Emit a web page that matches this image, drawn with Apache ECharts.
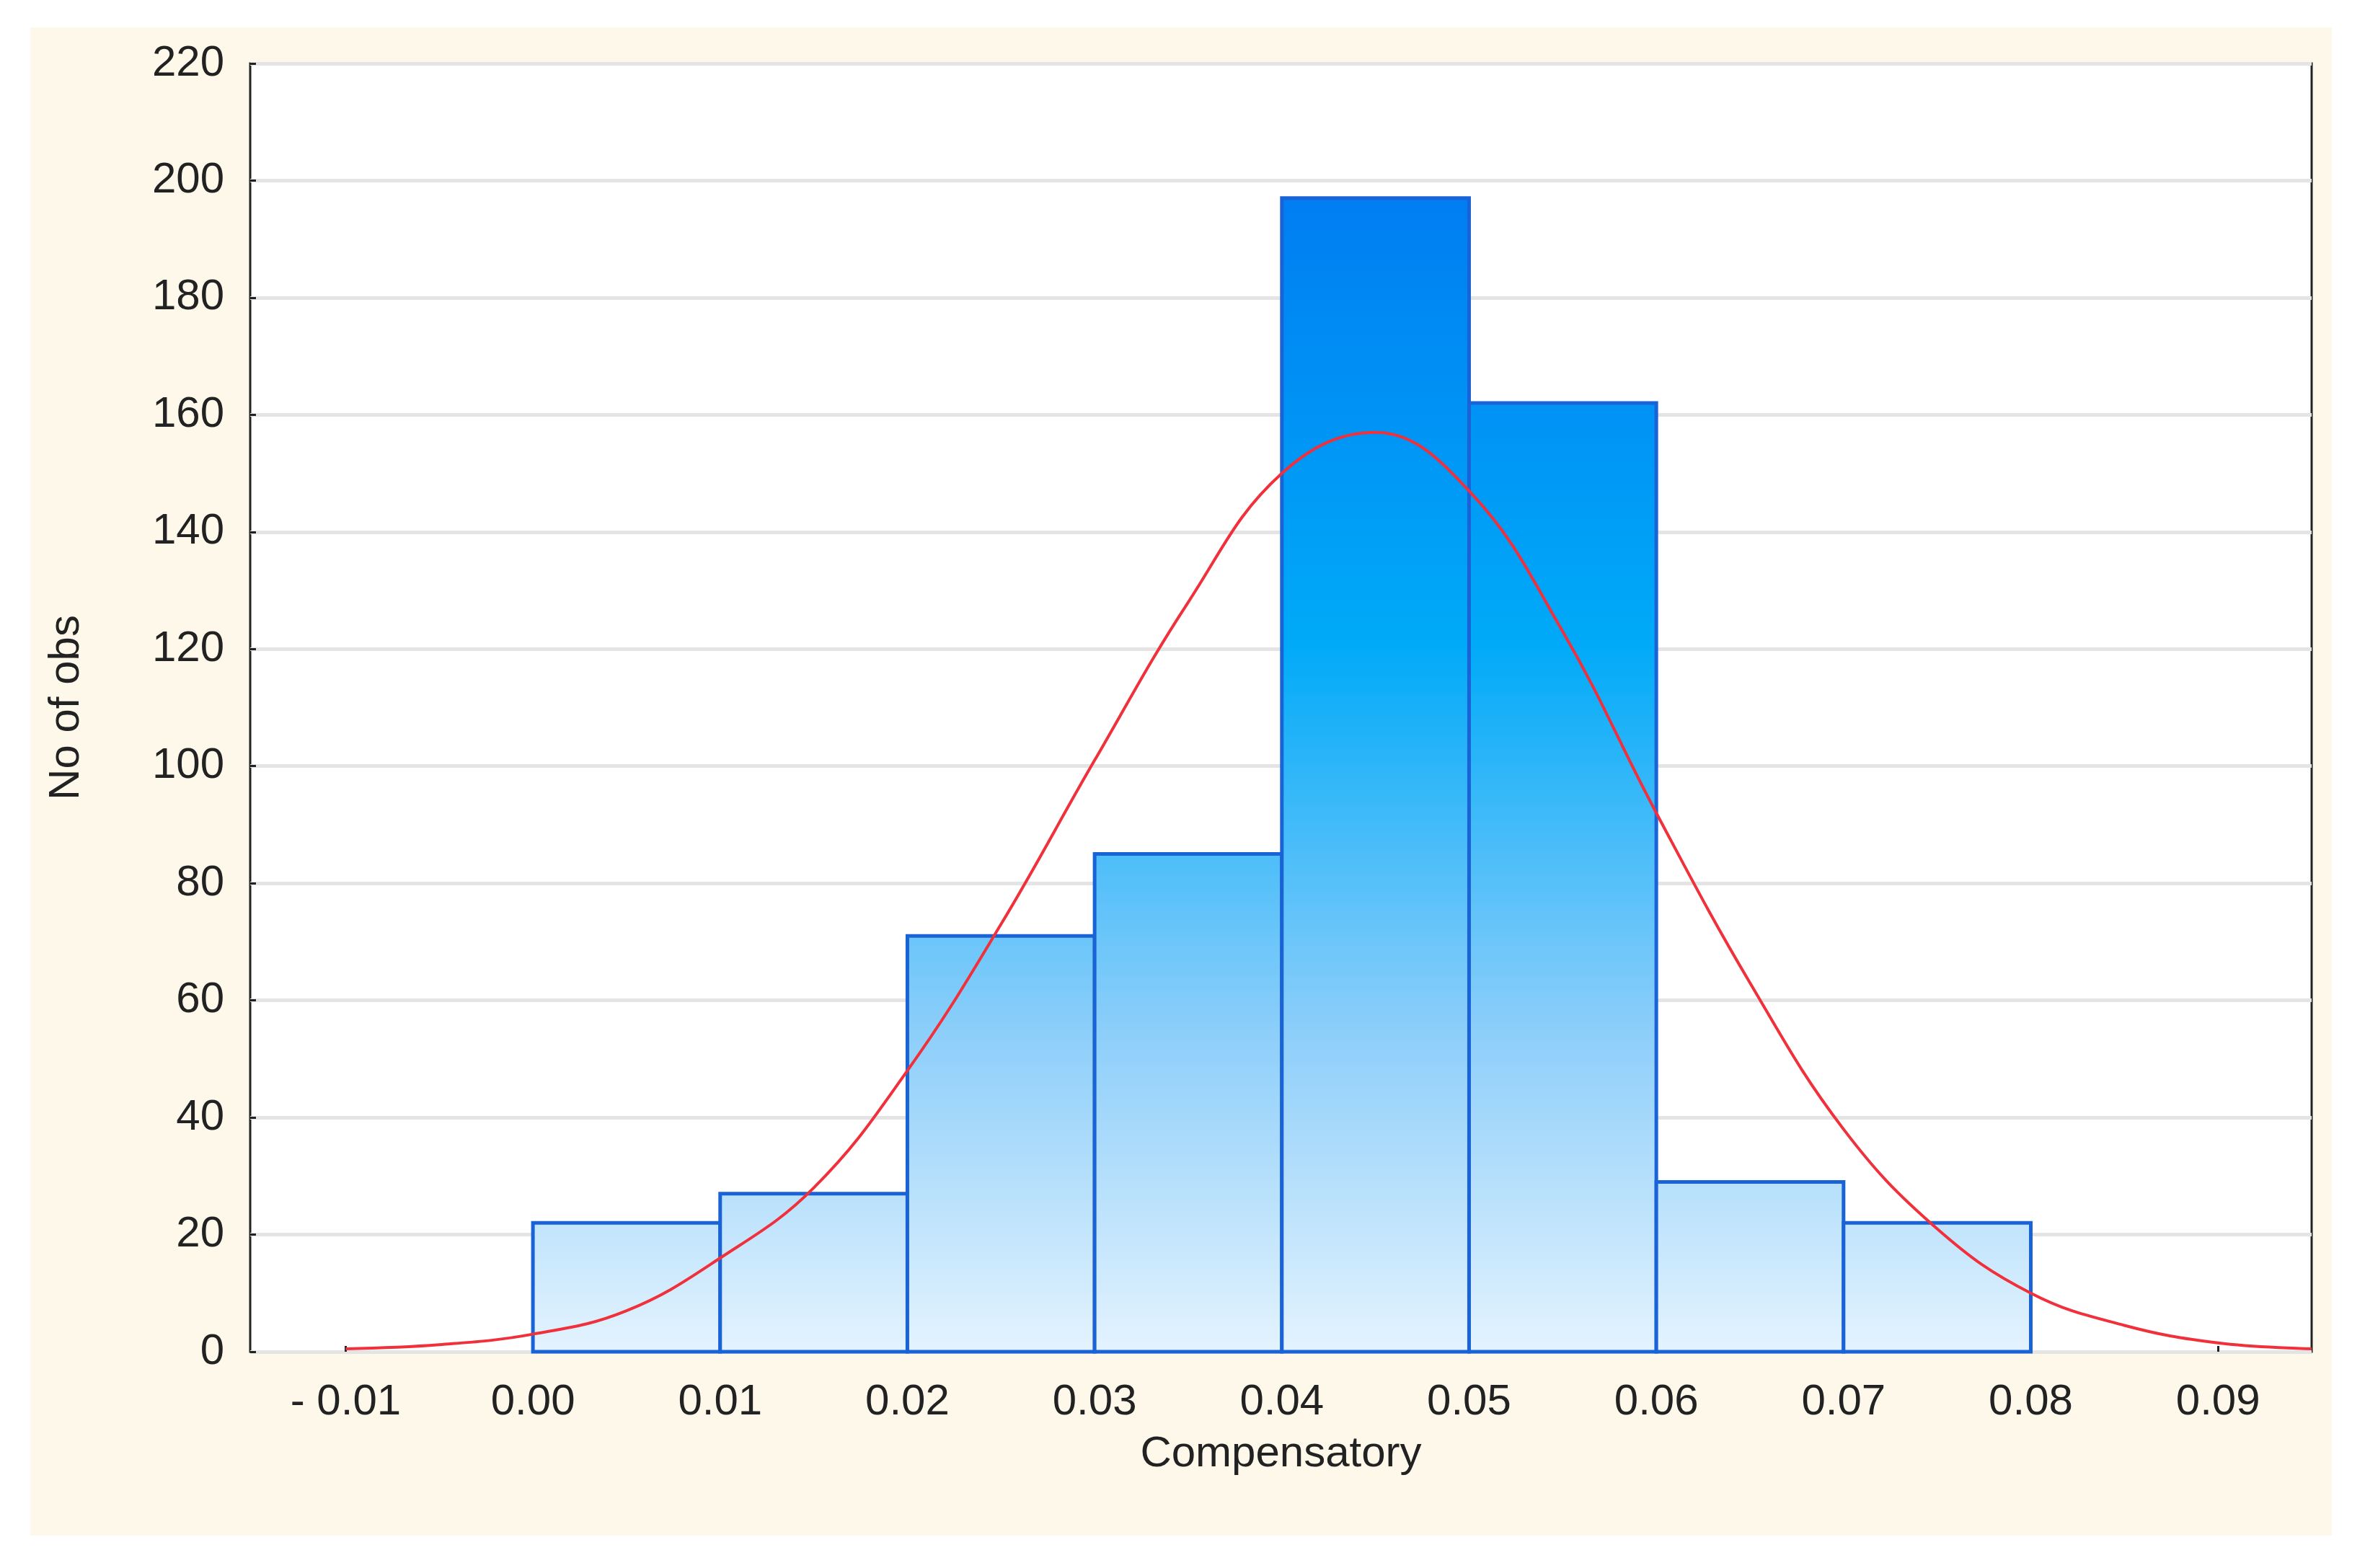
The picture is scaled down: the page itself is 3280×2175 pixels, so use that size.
<!DOCTYPE html>
<html>
<head>
<meta charset="utf-8">
<script src="https://cdn.jsdelivr.net/npm/echarts@6/dist/echarts.min.js"></script>
<style>html,body{margin:0;padding:0;background:#fff}#c{width:3280px;height:2175px}</style>
</head>
<body>
<div id="c"></div>
<script>
// histogram bins: [from, to, count]
var binStart = [0.00, 0.01, 0.02, 0.03, 0.04, 0.05, 0.06, 0.07];
var binEnd   = [0.01, 0.02, 0.03, 0.04, 0.05, 0.06, 0.07, 0.08];
var counts   = [22, 27, 71, 85, 197, 162, 29, 22];
// fitted normal curve
var curveX = [-0.01, -0.005, 0, 0.005, 0.01, 0.015, 0.02, 0.025, 0.03, 0.035, 0.04, 0.045, 0.05, 0.055, 0.06, 0.065, 0.07, 0.075, 0.08, 0.085, 0.09, 0.095];
var curveY = [0.5, 1.2, 3, 7, 16, 28, 48, 73, 101, 128, 150, 157, 147, 123, 92, 63, 38, 21, 10, 4.5, 1.5, 0.5];
var xTicks = [-0.01, 0, 0.01, 0.02, 0.03, 0.04, 0.05, 0.06, 0.07, 0.08, 0.09];

var chart = echarts.init(document.getElementById('c'));
var font = 'Liberation Sans, Arial, sans-serif';

var bars = binStart.map(function (s, i) { return [s, binEnd[i], counts[i]]; });
var curve = curveX.map(function (x, i) { return [x, curveY[i]]; });

chart.setOption({
    animation: false,
    graphic: [{
        type: 'rect', z: -10,
        shape: {x: 42, y: 38, width: 3192, height: 2092},
        style: {fill: '#fdf8ea'}
    }],
    grid: {left: 347, right: 74, top: 88, bottom: 300, show: true, backgroundColor: '#fff', borderColor: '#222', borderWidth: 3},
    xAxis: {
        type: 'value', min: -0.0151, max: 0.095,
        name: 'Compensatory', nameLocation: 'middle', nameGap: 112,
        nameTextStyle: {fontFamily: font, fontSize: 60, color: '#222'},
        axisLine: {show: false},
        splitLine: {show: false},
        axisTick: {show: true, inside: true, length: 8, customValues: xTicks, lineStyle: {color: '#222', width: 3}},
        axisLabel: {
            customValues: xTicks, margin: 40, fontFamily: font, fontSize: 60, color: '#222',
            formatter: function (v) { return v < 0 ? '- ' + Math.abs(v).toFixed(2) : v.toFixed(2); }
        }
    },
    yAxis: {
        type: 'value', min: 0, max: 220, interval: 20,
        name: 'No of obs', nameLocation: 'middle', nameGap: 225,
        nameTextStyle: {fontFamily: font, fontSize: 60, color: '#222'},
        axisLine: {show: false, onZero: false},
        axisTick: {show: true, inside: true, length: 8, lineStyle: {color: '#222', width: 3}},
        axisLabel: {margin: 36, fontFamily: font, fontSize: 60, color: '#222'},
        splitLine: {lineStyle: {color: '#e4e4e4', width: 5}}
    },
    series: [{
        type: 'custom',
        data: bars,
        encode: {x: [0, 1], y: 2},
        renderItem: function (params, api) {
            var p0 = api.coord([api.value(0), api.value(2)]);
            var p1 = api.coord([api.value(1), 0]);
            var top = api.coord([0, 220])[1];
            return {
                type: 'rect',
                shape: {x: p0[0], y: p0[1], width: p1[0] - p0[0], height: p1[1] - p0[1]},
                style: {
                    fill: new echarts.graphic.LinearGradient(0, top, 0, p1[1], [
                        {offset: 0, color: '#0070f0'},
                        {offset: 0.45, color: '#00aaf8'},
                        {offset: 0.75, color: '#8ccefa'},
                        {offset: 1, color: '#e4f3fe'}
                    ], true),
                    stroke: '#1a63d6', lineWidth: 5
                }
            };
        }
    }, {
        type: 'line',
        data: curve,
        smooth: 0.4,
        showSymbol: false,
        z: 5,
        lineStyle: {color: '#f0303a', width: 4}
    }]
});
</script>
</body>
</html>
